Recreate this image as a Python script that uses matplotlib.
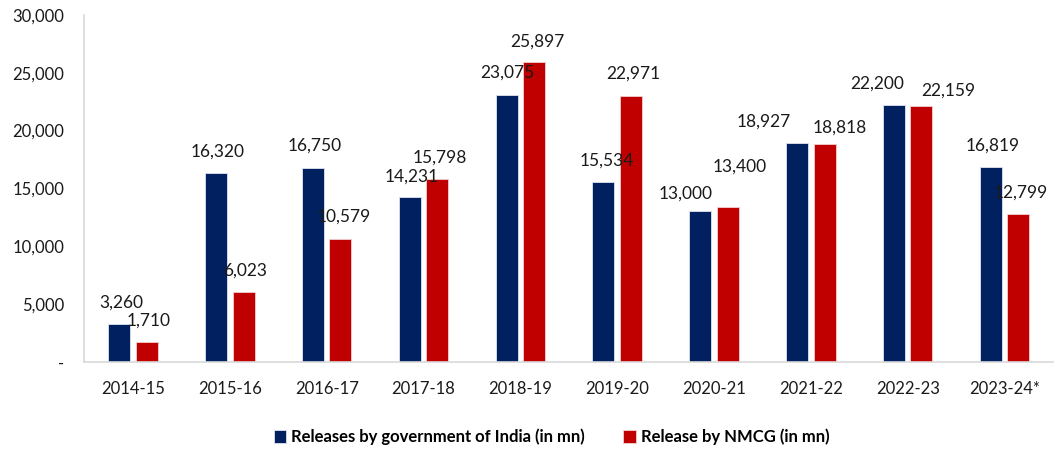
import matplotlib.pyplot as plt
import numpy as np
from matplotlib.ticker import FuncFormatter

years = ["2014-15", "2015-16", "2016-17", "2017-18", "2018-19",
         "2019-20", "2020-21", "2021-22", "2022-23", "2023-24*"]
govt_india = [3260, 16320, 16750, 14231, 23075, 15534, 13000, 18927, 22200, 16819]
nmcg = [1710, 6023, 10579, 15798, 25897, 22971, 13400, 18818, 22159, 12799]

# manual label nudges (pixels), as in the source chart
govt_dx = [2, 2, 2, 2, 1, 3, -15, -33, -17, 2]
govt_dy = [21, 21, 22, 21, 22, 22, 18, 21, 21, 22]
nmcg_dx = [2, 2, 3, 3, 3, 2, 12, 15, 27, 2]
nmcg_dy = [21, 22, 23, 21, 21, 23, 40, 17, 15, 21]


def fmt(v, pos=None):
    if v == 0:
        return "-"
    return f"{int(v):,}"


def main():
    plt.rcParams['font.family'] = ['Lato', 'DejaVu Sans']
    fig = plt.figure(figsize=(10.59, 4.5), dpi=100)
    ax = fig.add_axes([0.0793, 0.196, 0.915, 0.771])

    x = np.arange(len(years))
    w = 0.227
    off = 0.142
    b1 = ax.bar(x - off, govt_india, w, color='#002060', edgecolor='#dfe3ee',
                linewidth=0.6, label='Releases by government of India (in mn)')
    b2 = ax.bar(x + off, nmcg, w, color='#C00000', edgecolor='#f2d0d0',
                linewidth=0.6, label='Release by NMCG (in mn)')

    for bars, vals, dxs, dys in ((b1, govt_india, govt_dx, govt_dy),
                                 (b2, nmcg, nmcg_dx, nmcg_dy)):
        for r, v, dx, dy in zip(bars, vals, dxs, dys):
            ax.annotate(fmt(v), (r.get_x() + r.get_width() / 2, v),
                        xytext=(dx, dy), textcoords='offset pixels',
                        ha='center', va='center', fontsize=12.5, color='#1a1a1a')

    ax.set_xlim(-0.506, len(years) - 0.5)
    ax.set_ylim(0, 30000)
    ax.set_yticks(range(0, 30001, 5000))
    ax.yaxis.set_major_formatter(FuncFormatter(fmt))
    ax.set_xticks(x)
    ax.set_xticklabels(years)
    ax.tick_params(axis='both', length=0, labelsize=12, colors='#1a1a1a')
    ax.tick_params(axis='x', pad=14)
    ax.tick_params(axis='y', pad=14)

    for s in ('top', 'right'):
        ax.spines[s].set_visible(False)
    for s in ('left', 'bottom'):
        ax.spines[s].set_color('#d9d9d9')
        ax.spines[s].set_linewidth(1.2)

    fig.legend(loc='center', bbox_to_anchor=(0.521, 0.029), ncol=2,
               frameon=False, prop={'weight': 'bold', 'size': 12},
               handlelength=0.75, handleheight=0.75, handletextpad=0.3,
               columnspacing=2.3)

    fig.savefig('out.png', dpi=100)


if __name__ == "__main__":
    main()
